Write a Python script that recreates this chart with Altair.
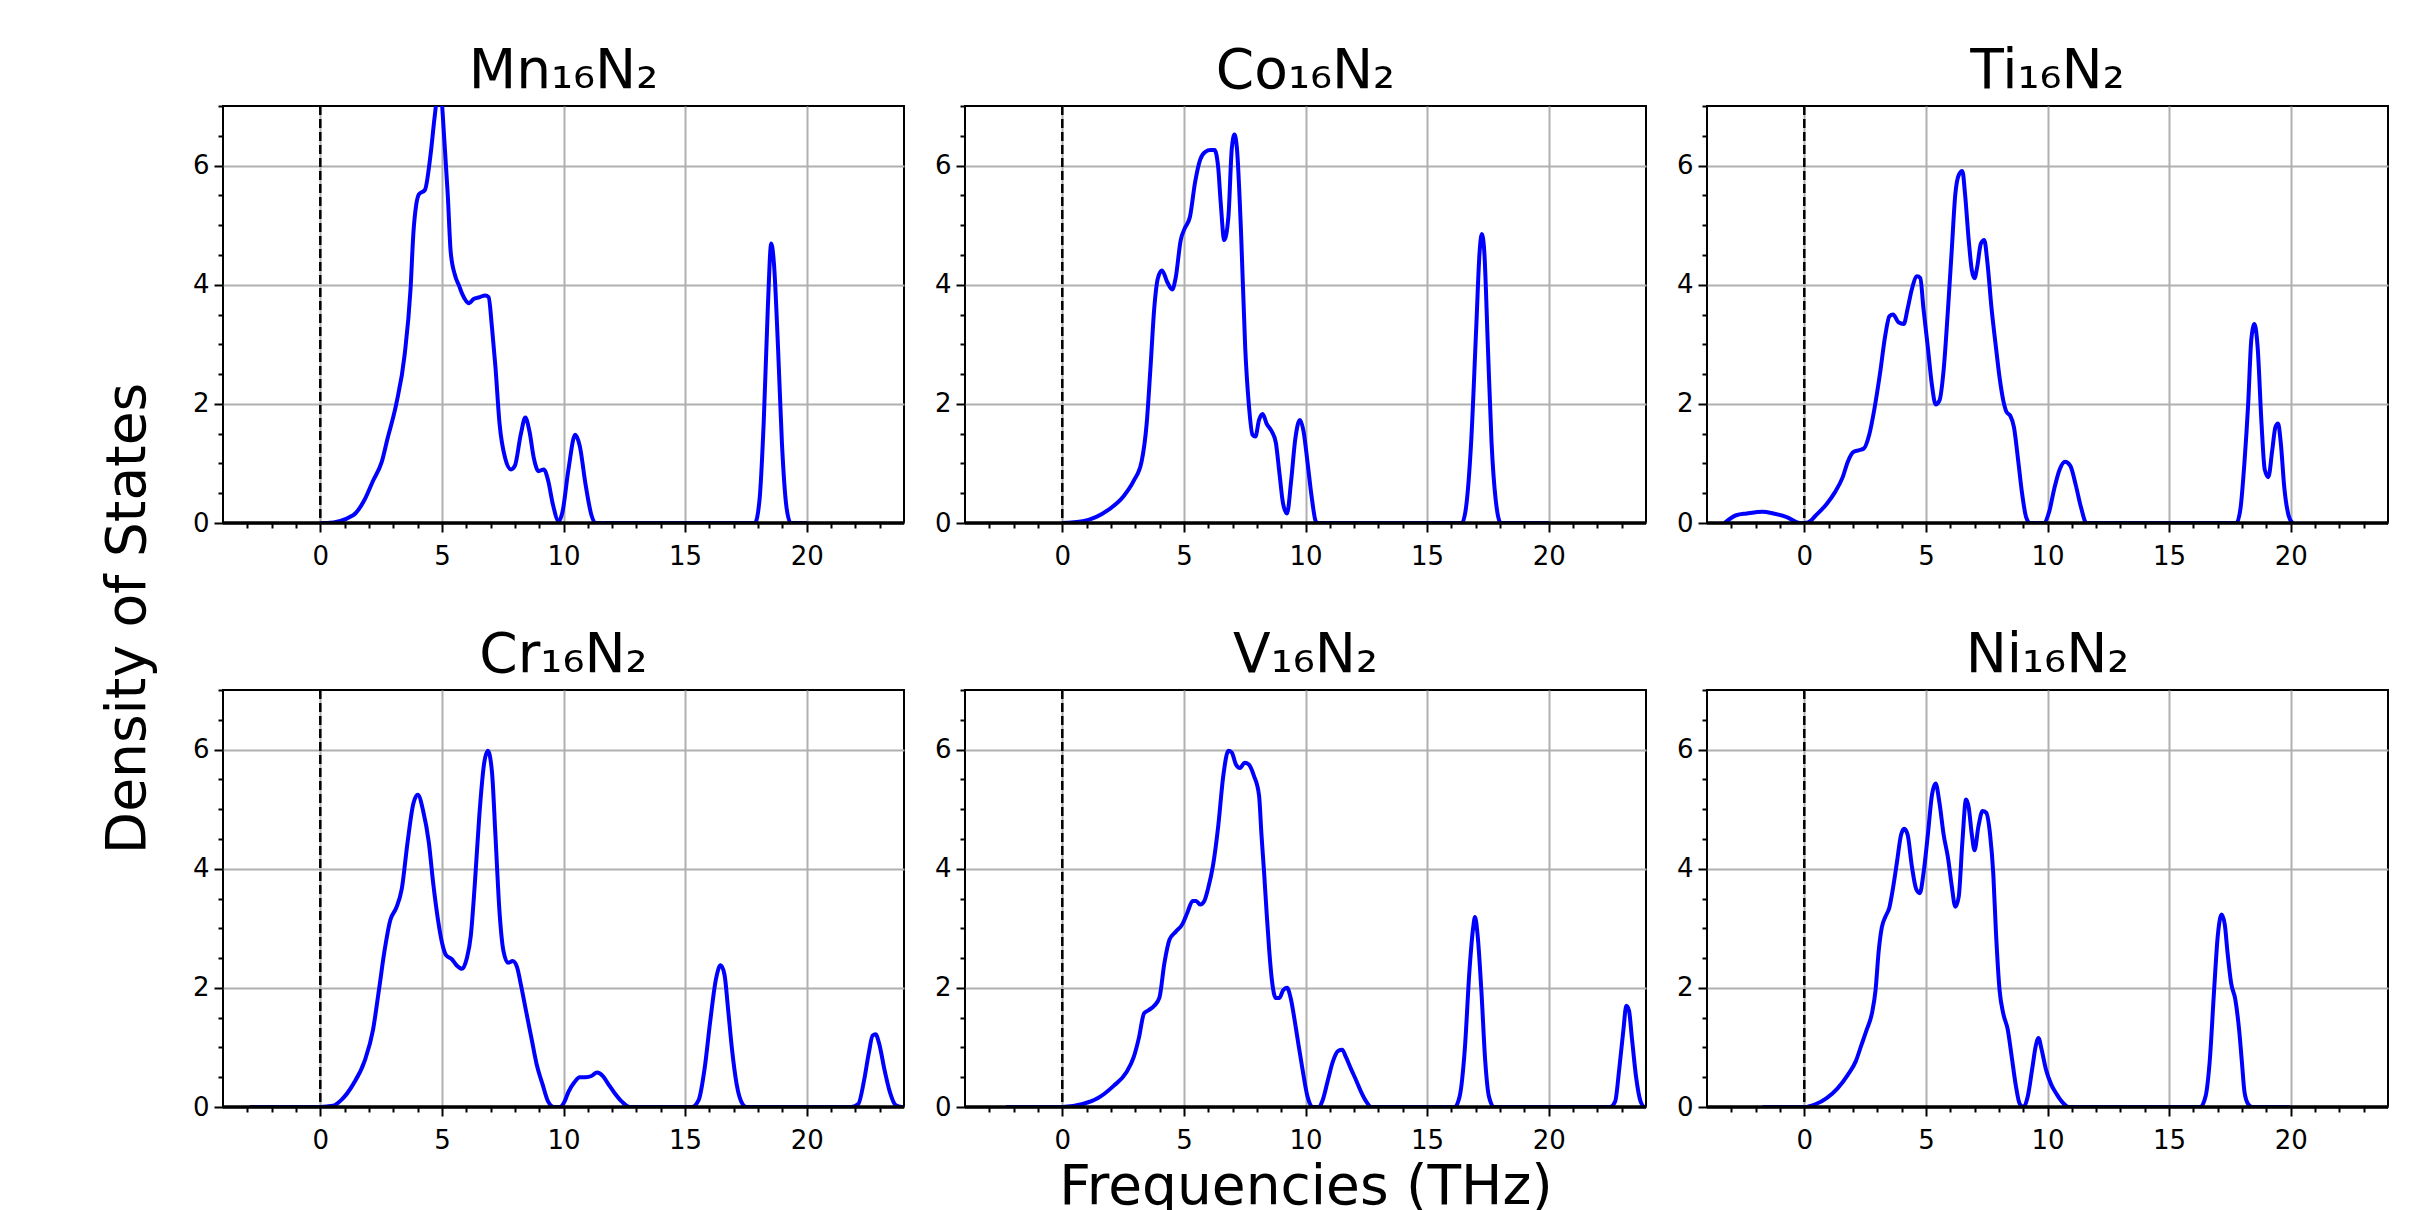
import altair as alt
import pandas as pd

FONT = "DejaVu Sans"

TITLES = ["Mn₁₆N₂", "Co₁₆N₂", "Ti₁₆N₂", "Cr₁₆N₂", "V₁₆N₂", "Ni₁₆N₂"]

MN_X = [0.0, 0.28, 1.35, 1.82, 2.17, 2.53, 2.76, 3.12, 3.47, 3.71,
        3.83, 3.94, 4.06, 4.30, 4.53, 4.70, 4.90, 5.12, 5.24, 5.36,
        5.53, 5.71, 5.83, 6.12, 6.30, 6.54, 6.78, 6.92, 7.06, 7.20,
        7.37, 7.60, 7.84, 8.00, 8.24, 8.43, 8.60, 8.78, 8.97, 9.19,
        9.37, 9.56, 9.80, 9.96, 10.20, 10.48, 10.67, 10.91, 11.15, 11.31,
        17.87, 18.06, 18.23, 18.40, 18.54, 18.65, 18.82, 18.98, 19.17, 19.34,
        20.0]
MN_Y = [0, 0, 0.13, 0.39, 0.71, 1.03, 1.41, 1.99, 2.83, 3.92,
        4.88, 5.33, 5.52, 5.59, 6.17, 6.81, 7.4, 6.3, 5.52, 4.56,
        4.17, 3.98, 3.85, 3.69, 3.76, 3.79, 3.82, 3.79, 3.28, 2.63,
        1.67, 1.09, 0.90, 0.96, 1.48, 1.77, 1.54, 1.09, 0.87, 0.90,
        0.71, 0.32, 0.03, 0.19, 0.89, 1.48, 1.29, 0.64, 0.13, 0,
        0, 0.39, 1.67, 3.60, 4.69, 4.37, 2.95, 1.35, 0.26, 0,
        0]

CO_X = [0, 0.84, 1.89, 2.52, 2.94, 3.26, 3.47, 3.63, 3.78, 3.93,
        4.10, 4.31, 4.52, 4.66, 4.87, 5.04, 5.25, 5.46, 5.67, 5.88,
        6.09, 6.26, 6.41, 6.51, 6.66, 6.83, 6.97, 7.08, 7.18, 7.35,
        7.52, 7.67, 7.82, 7.94, 8.09, 8.24, 8.40, 8.61, 8.78, 8.93,
        9.08, 9.24, 9.41, 9.58, 9.77, 9.92, 10.08, 10.25, 10.42, 10.5,
        16.43, 16.60, 16.81, 17.02, 17.16, 17.25, 17.35, 17.50, 17.65, 17.82,
        18.03, 20.0]
CO_Y = [0, 0.03, 0.22, 0.45, 0.71, 1.03, 1.67, 2.63, 3.60, 4.11,
        4.24, 4.05, 3.92, 4.11, 4.75, 4.95, 5.14, 5.72, 6.10, 6.23,
        6.26, 6.26, 5.97, 5.40, 4.75, 5.14, 6.29, 6.52, 6.29, 4.88,
        2.95, 1.99, 1.48, 1.45, 1.73, 1.83, 1.67, 1.54, 1.35, 0.83,
        0.32, 0.16, 0.71, 1.41, 1.73, 1.54, 1.03, 0.45, 0.03, 0,
        0, 0.26, 1.35, 3.28, 4.56, 4.85, 4.56, 2.95, 1.35, 0.39,
        0, 0]

TI_X = [-3.28, -2.80, -2.36, -1.71, -1.27, -0.72, -0.18,
        0.15, 0.48, 0.92, 1.25, 1.58, 1.79, 2.01, 2.23, 2.45,
        2.67, 2.89, 3.11, 3.33, 3.50, 3.65, 3.87, 4.09, 4.25, 4.42, 4.64, 4.77, 4.90,
        5.08, 5.25, 5.40, 5.56, 5.73, 5.91, 6.06, 6.21, 6.35, 6.50, 6.61, 6.76, 6.89, 7.00,
        7.11, 7.26, 7.40, 7.53, 7.70, 7.88, 8.03, 8.18, 8.32, 8.47, 8.62, 8.80, 8.95, 9.12, 9.28,
        9.85, 10.07, 10.28, 10.50, 10.72, 10.94, 11.16, 11.38, 11.60,
        17.77, 17.94, 18.10, 18.25, 18.38, 18.51, 18.64, 18.80, 18.93, 19.08, 19.24, 19.37,
        19.48, 19.59, 19.74, 19.91, 20.07]
TI_Y = [0, 0.13, 0.16, 0.19, 0.16, 0.10, 0,
        0.01, 0.13, 0.32, 0.51, 0.77, 1.03, 1.19, 1.22, 1.25,
        1.48, 1.93, 2.50, 3.15, 3.47, 3.50, 3.37, 3.34, 3.60, 3.92, 4.14, 4.11, 3.60,
        2.95, 2.31, 1.99, 2.06, 2.57, 3.60, 4.56, 5.52, 5.84, 5.91, 5.52, 4.75, 4.24, 4.11,
        4.30, 4.69, 4.75, 4.37, 3.60, 2.95, 2.44, 2.06, 1.86, 1.80, 1.61, 1.03, 0.51, 0.10, 0,
        0, 0.19, 0.58, 0.90, 1.03, 0.96, 0.64, 0.26, 0,
        0, 0.26, 1.03, 1.99, 3.08, 3.34, 2.95, 1.67, 0.90, 0.77, 1.22, 1.61,
        1.67, 1.35, 0.58, 0.13, 0]

CR_X = [-2.90, 0, 0.52, 0.87, 1.35, 1.82, 2.17, 2.41, 2.64, 2.88,
        3.12, 3.35, 3.59, 3.83, 4.01, 4.23, 4.46, 4.65, 4.84, 5.01,
        5.17, 5.41, 5.60, 5.83, 6.02, 6.19, 6.35, 6.54, 6.73, 6.89,
        7.06, 7.20, 7.37, 7.53, 7.72, 7.91, 8.08, 8.26, 8.48, 8.67,
        8.90, 9.14, 9.37, 9.61, 9.85, 10.04, 10.20, 10.44, 10.67, 10.91,
        11.15, 11.38, 11.62, 11.85, 12.09, 12.40, 12.73, 15.28, 15.56, 15.80,
        16.03, 16.27, 16.46, 16.62, 16.77, 16.93, 17.12, 17.36, 17.52, 21.84,
        22.12, 22.36, 22.55, 22.71, 22.83, 23.00, 23.19, 23.42, 23.66, 23.90,
        24.0]
CR_Y = [0, 0, 0.02, 0.12, 0.38, 0.77, 1.30, 1.96, 2.62, 3.14,
        3.34, 3.66, 4.45, 5.10, 5.24, 4.97, 4.45, 3.73, 3.14, 2.75,
        2.55, 2.48, 2.38, 2.32, 2.49, 2.88, 3.72, 4.90, 5.75, 5.98,
        5.62, 4.57, 3.27, 2.62, 2.42, 2.45, 2.36, 2.03, 1.57, 1.18,
        0.71, 0.38, 0.09, 0, 0, 0.09, 0.25, 0.41, 0.50, 0.50,
        0.52, 0.58, 0.52, 0.38, 0.24, 0.09, 0, 0, 0.12, 0.64,
        1.43, 2.15, 2.38, 2.22, 1.63, 0.96, 0.38, 0.05, 0, 0,
        0.05, 0.45, 0.90, 1.20, 1.22, 1.03, 0.64, 0.25, 0.03, 0,
        0]

V_X = [-2.31, 0, 0.84, 1.47, 2.10, 2.63, 2.94, 3.15, 3.36, 3.53,
       3.78, 3.99, 4.20, 4.41, 4.66, 4.94, 5.15, 5.36, 5.50, 5.67,
       5.84, 5.99, 6.20, 6.41, 6.62, 6.83, 6.97, 7.14, 7.31, 7.50,
       7.67, 7.88, 8.09, 8.19, 8.30, 8.40, 8.51, 8.61, 8.78, 8.93,
       9.08, 9.24, 9.39, 9.56, 9.71, 9.87, 10.08, 10.29, 10.55, 10.71,
       10.92, 11.13, 11.34, 11.51, 11.66, 11.87, 12.08, 12.29, 12.50, 12.71,
       16.13, 16.34, 16.55, 16.74, 16.89, 16.97, 17.08, 17.23, 17.39, 17.54,
       17.75, 22.52, 22.73, 22.90, 23.07, 23.19, 23.30, 23.42, 23.59, 23.78,
       23.95, 24.0]
V_Y = [0, 0, 0.05, 0.15, 0.35, 0.58, 0.84, 1.16, 1.57, 1.62,
       1.70, 1.83, 2.42, 2.81, 2.94, 3.07, 3.27, 3.46, 3.46, 3.40,
       3.46, 3.66, 4.06, 4.71, 5.56, 5.98, 5.95, 5.75, 5.69, 5.78,
       5.75, 5.56, 5.23, 4.57, 3.92, 3.27, 2.62, 2.16, 1.83, 1.83,
       1.96, 2.00, 1.83, 1.44, 1.05, 0.65, 0.18, 0, 0, 0.12,
       0.45, 0.77, 0.94, 0.96, 0.84, 0.64, 0.45, 0.25, 0.09, 0,
       0, 0.18, 0.97, 2.28, 3.00, 3.19, 2.87, 1.96, 0.77, 0.18,
       0, 0, 0.09, 0.64, 1.29, 1.70, 1.62, 1.16, 0.51, 0.09,
       0, 0]

NI_X = [-1.71, 0, 0.48, 0.92, 1.36, 1.79, 2.12, 2.34, 2.56, 2.78,
        2.93, 3.06, 3.19, 3.33, 3.50, 3.65, 3.81, 3.98, 4.11, 4.25,
        4.42, 4.60, 4.75, 4.90, 5.08, 5.25, 5.40, 5.56, 5.73, 5.91,
        6.06, 6.21, 6.35, 6.50, 6.65, 6.76, 6.89, 7.00, 7.16, 7.33,
        7.48, 7.64, 7.77, 7.88, 8.03, 8.18, 8.36, 8.53, 8.69, 8.86,
        9.02, 9.19, 9.37, 9.52, 9.63, 9.76, 9.93, 10.15, 10.37, 10.59,
        10.88, 16.28, 16.50, 16.67, 16.85, 17.00, 17.16, 17.29, 17.40, 17.55,
        17.72, 17.88, 17.99, 18.10, 18.25, 18.42, 19.96]
NI_Y = [0, 0, 0.05, 0.15, 0.31, 0.54, 0.77, 1.03, 1.29, 1.57,
        1.96, 2.62, 3.02, 3.19, 3.35, 3.68, 4.11, 4.57, 4.67, 4.57,
        4.05, 3.66, 3.59, 3.92, 4.57, 5.24, 5.43, 5.10, 4.57, 4.18,
        3.72, 3.36, 3.53, 4.45, 5.16, 5.03, 4.57, 4.31, 4.71, 4.97,
        4.94, 4.57, 3.92, 2.94, 1.96, 1.57, 1.31, 0.84, 0.38, 0.05,
        0, 0.18, 0.64, 1.03, 1.16, 0.96, 0.64, 0.38, 0.22, 0.09,
        0, 0, 0.18, 0.77, 1.96, 2.87, 3.23, 3.06, 2.60, 2.08,
        1.81, 1.29, 0.77, 0.25, 0.05, 0, 0]

SERIES = [(MN_X, MN_Y), (CO_X, CO_Y), (TI_X, TI_Y),
          (CR_X, CR_Y), (V_X, V_Y), (NI_X, NI_Y)]

X_DOMAIN = [-4, 24]
Y_DOMAIN = [0, 7]
X_MAJOR = [0, 5, 10, 15, 20]
X_MINOR = [-3, -2, -1, 1, 2, 3, 4, 6, 7, 8, 9, 11, 12, 13, 14,
           16, 17, 18, 19, 21, 22, 23]
Y_MAJOR = [0, 2, 4, 6]
Y_MINOR = [0.5, 1, 1.5, 2.5, 3, 3.5, 4.5, 5, 5.5, 6.5, 7]

PW, PH = 681, 417

TXT = dict(titleFont=FONT, titleFontSize=55, titleFontWeight="normal",
           titleColor="black")


def major_axis(orient, values, pad, **extra):
    return alt.Axis(
        orient=orient, values=values, format=".0f",
        labelFont=FONT, labelFontSize=26, labelColor="black",
        labelPadding=pad, labelOverlap=False, labelFlush=False,
        tickColor="black", tickWidth=2, tickSize=9,
        grid=True, gridColor="#b0b0b0", gridWidth=2,
        domain=False, **TXT, **extra,
    )


def minor_axis(orient, values):
    return alt.Axis(
        orient=orient, values=values, labels=False, title=None,
        tickColor="black", tickWidth=2, tickSize=5,
        grid=False, domain=False,
    )


def panel(idx):
    xs, ys = SERIES[idx]
    curve = pd.DataFrame({"x": xs, "y": ys})
    zero = pd.DataFrame({"v": [0]})
    xscale = alt.Scale(domain=X_DOMAIN, nice=False, zero=False)
    yscale = alt.Scale(domain=Y_DOMAIN, nice=False)

    if idx == 4:
        xax = major_axis("bottom", X_MAJOR, 11,
                         title="Frequencies (THz)", titleY=96,
                         titleBaseline="alphabetic", titleAlign="center")
    else:
        xax = major_axis("bottom", X_MAJOR, 11, title=None)
    if idx == 0:
        yax = major_axis("left", Y_MAJOR, 5,
                         title="Density of States", titleX=-79, titleY=512,
                         titleAngle=270, titleAlign="center",
                         titleBaseline="alphabetic")
    else:
        yax = major_axis("left", Y_MAJOR, 5, title=None)

    line = alt.Chart(curve).mark_line(
        color="#0000ff", strokeWidth=4, interpolate="monotone", clip=True
    ).encode(
        x=alt.X("x:Q", scale=xscale, axis=xax),
        y=alt.Y("y:Q", scale=yscale, axis=yax),
    )

    vline = alt.Chart(zero).mark_rule(
        color="black", strokeWidth=2.5, strokeDash=[9, 4]
    ).encode(x=alt.X("v:Q", scale=xscale, axis=minor_axis("bottom", X_MINOR)))

    hline = alt.Chart(zero).mark_rule(
        color="black", strokeWidth=3.5
    ).encode(y=alt.Y("v:Q", scale=yscale, axis=minor_axis("left", Y_MINOR)))

    return alt.layer(line, vline, hline).resolve_axis(
        x="independent", y="independent"
    ).properties(
        width=PW, height=PH,
        title=alt.Title(
            TITLES[idx], font=FONT, fontSize=55, fontWeight="normal",
            color="black", anchor="middle", frame="group",
            baseline="alphabetic", offset=0, dy=38,
        ),
    )


chart = alt.concat(
    *[panel(i) for i in range(6)],
    columns=3,
    spacing={"row": 167, "column": 61},
    bounds="flush",
).properties(
    padding={"left": 90, "top": 34, "right": 0, "bottom": 0},
    background="white",
).configure_view(stroke="black", strokeWidth=2)

chart.save("out.html", embed_options={"renderer": "svg", "actions": False})
